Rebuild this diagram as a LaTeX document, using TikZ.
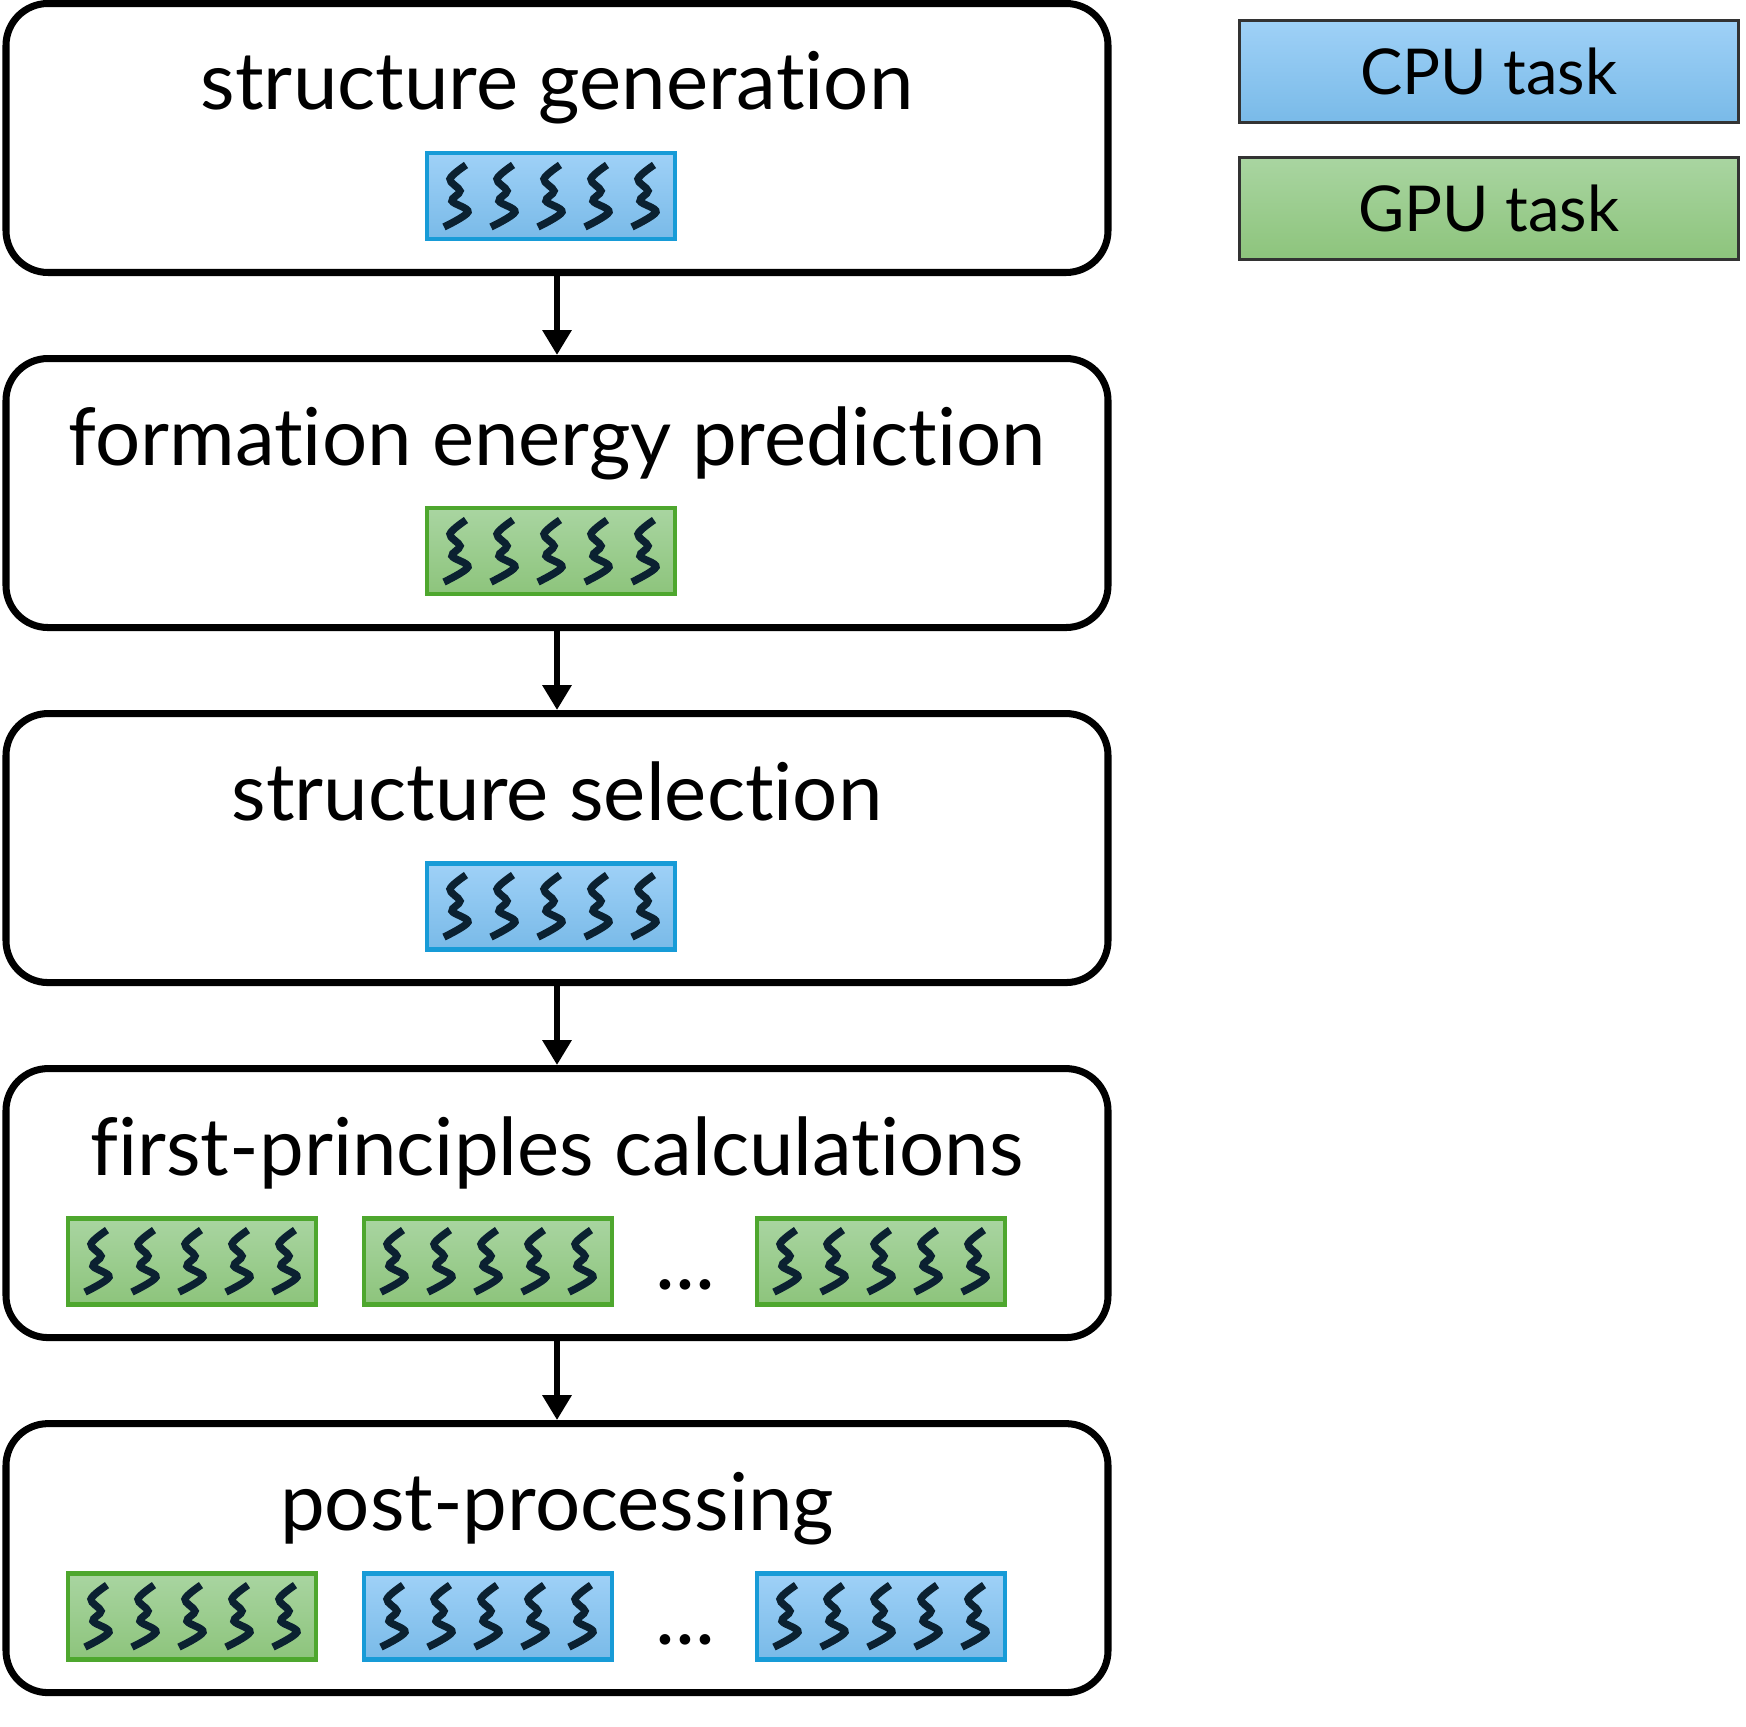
\documentclass[tikz,border=0pt]{standalone}
\usepackage{fontspec}
\setmainfont{Lato}[Ligatures=NoCommon]
\usetikzlibrary{positioning,arrows.meta}

\definecolor{cputop}{HTML}{9FD1F7}
\definecolor{cpubot}{HTML}{79BAE8}
\definecolor{cpuline}{HTML}{179BD7}
\definecolor{gputop}{HTML}{A9D5A1}
\definecolor{gpubot}{HTML}{8DC47C}
\definecolor{gpuline}{HTML}{4EA72E}
\definecolor{keyline}{HTML}{333333}
\definecolor{threadcol}{HTML}{0B2131}

\newcommand{\threads}[1]{%
    \foreach \dx in {-0.94,-0.47,0,0.47,0.94} {
        \draw[thread,shift={(#1.center)},xshift=\dx cm]
            plot[smooth,tension=0.55] coordinates
            {(0.09,0.31) (-0.07,0.17) (0.03,0.05) (-0.05,-0.05) (0.11,-0.16) (-0.13,-0.31)};
    }%
}

\begin{document}
\begin{tikzpicture}[
    stage/.style={draw,line width=2pt,rounded corners=0.42cm,
        minimum width=11.02cm,minimum height=2.69cm},
    stagetitle/.style={anchor=base,inner sep=0pt,font=\fontsize{22.7}{27}\selectfont},
    cpu/.style={draw=cpuline,line width=1.4pt,top color=cputop,bottom color=cpubot,
        minimum width=2.48cm,minimum height=0.86cm,inner sep=0pt},
    gpu/.style={draw=gpuline,line width=1.4pt,top color=gputop,bottom color=gpubot,
        minimum width=2.48cm,minimum height=0.86cm,inner sep=0pt},
    key/.style={draw=keyline,line width=0.85pt,inner sep=0pt,
        minimum width=4.99cm,minimum height=1.02cm,font=\fontsize{18}{22}\selectfont},
    thread/.style={draw=threadcol,line width=2.1pt},
    flow/.style={line width=1.9pt,-{Triangle[width=0.28cm,length=0.25cm]}},
    etc/.style={inner sep=0pt,font=\fontsize{24}{28}\selectfont}
]
    \useasboundingbox (0,0) rectangle (17.46,-17.27);

    \node[stage] (gen) at (5.57,-1.38) {};
    \node[stage,below=0.79cm of gen] (pred) {};
    \node[stage,below=0.79cm of pred] (sel) {};
    \node[stage,below=0.79cm of sel] (calc) {};
    \node[stage,below=0.79cm of calc] (post) {};

    \node[stagetitle] (gentitle) at ([yshift=-1.1cm]gen.north) {structure generation};
    \node[stagetitle] (predtitle) at ([yshift=-1.1cm]pred.north) {formation energy prediction};
    \node[stagetitle] (seltitle) at ([yshift=-1.1cm]sel.north) {structure selection};
    \node[stagetitle] (calctitle) at ([yshift=-1.1cm]calc.north) {first-principles calculations};
    \node[stagetitle] (posttitle) at ([yshift=-1.1cm]post.north) {post-processing};

    \node[cpu] (gentask) at ([xshift=-0.06cm,yshift=-1.96cm]gen.north) {};
    \node[gpu] (predtask) at ([xshift=-0.06cm,yshift=-1.96cm]pred.north) {};
    \node[cpu] (seltask) at ([xshift=-0.06cm,yshift=-1.96cm]sel.north) {};

    \node[gpu] (calcA) at ([xshift=-3.65cm,yshift=-1.96cm]calc.north) {};
    \node[gpu] (calcB) at ([xshift=-0.69cm,yshift=-1.96cm]calc.north) {};
    \node[etc] (calcdots) at ([xshift=1.285cm,yshift=-2.2cm]calc.north) {...};
    \node[gpu] (calcC) at ([xshift=3.24cm,yshift=-1.96cm]calc.north) {};

    \node[gpu] (postA) at ([xshift=-3.65cm,yshift=-1.96cm]post.north) {};
    \node[cpu] (postB) at ([xshift=-0.69cm,yshift=-1.96cm]post.north) {};
    \node[etc] (postdots) at ([xshift=1.285cm,yshift=-2.2cm]post.north) {...};
    \node[cpu] (postC) at ([xshift=3.24cm,yshift=-1.96cm]post.north) {};

    \foreach \t in {gentask,predtask,seltask,calcA,calcB,calcC,postA,postB,postC} {
        \threads{\t}
    }

    \draw[flow] (gen) -- (pred);
    \draw[flow] (pred) -- (sel);
    \draw[flow] (sel) -- (calc);
    \draw[flow] (calc) -- (post);

    \node[key,top color=cputop,bottom color=cpubot] (cpukey) at (14.89,-0.715) {CPU task};
    \node[key,top color=gputop,bottom color=gpubot,below=0.32cm of cpukey] (gpukey) {GPU task};
\end{tikzpicture}
\end{document}
